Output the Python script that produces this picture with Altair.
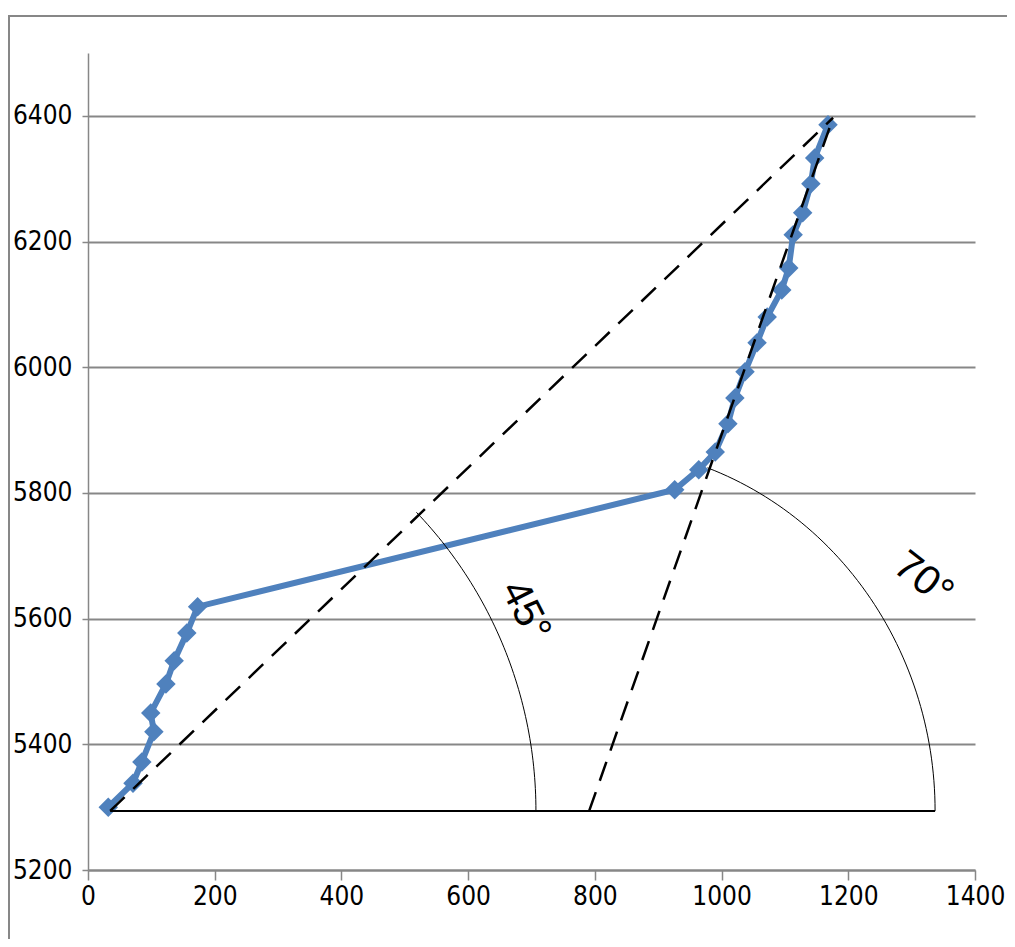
import altair as alt
import pandas as pd
import numpy as np

# ---- data series ----
x_vals = [32, 71, 85, 104, 99, 123, 136, 156, 173, 926, 964, 990, 1010, 1021,
          1037, 1056, 1072, 1095, 1106, 1113, 1128, 1141, 1147, 1168]
y_vals = [5300, 5338, 5372, 5420, 5450, 5496, 5533, 5577, 5619, 5805, 5837, 5865,
          5910, 5951, 5993, 6039, 6080, 6123, 6158, 6211, 6246, 6292, 6333, 6386]

x_ticks = [0, 200, 400, 600, 800, 1000, 1200, 1400]
y_ticks = [5200, 5400, 5600, 5800, 6000, 6200, 6400]

# ---- annotation geometry (data units) ----
base_x = [35, 1337]
base_y = [5294, 5294]
dash_a_x = [35, 1176]
dash_a_y = [5294, 6397]
dash_b_x = [791, 1176]
dash_b_y = [5294, 6397]
arc1 = dict(cx=35, cy=5294, rx=672, ry=684, t_end=44)
arc2 = dict(cx=791, cy=5294, rx=546, ry=581, t_end=70)
labels_text = ["45°", "70°"]
labels_x = [690, 1318]
labels_y = [5612, 5662]
labels_angle = [63, 38]

BLUE = "#4F81BD"
GRAY = "#878787"
NUM_FONT = "DejaVu Sans Condensed"

series = pd.DataFrame({"x": x_vals, "y": y_vals, "i": range(len(x_vals))})

def arc_frame(a, name):
    t = np.radians(np.linspace(0, a["t_end"], 60))
    return pd.DataFrame({"x": a["cx"] + a["rx"] * np.cos(t),
                         "y": a["cy"] + a["ry"] * np.sin(t),
                         "i": range(len(t)), "seg": name})

arcs = pd.concat([arc_frame(arc1, "a1"), arc_frame(arc2, "a2")])
dashed = pd.concat([
    pd.DataFrame({"x": dash_a_x, "y": dash_a_y, "i": [0, 1], "seg": "da"}),
    pd.DataFrame({"x": dash_b_x, "y": dash_b_y, "i": [0, 1], "seg": "db"}),
])
base = pd.DataFrame({"x": base_x, "y": base_y, "i": [0, 1]})
texts = pd.DataFrame({"t": labels_text, "x": labels_x, "y": labels_y, "a": labels_angle})

xs = alt.Scale(domain=[0, 1400], nice=False, zero=False)
ys = alt.Scale(domain=[5200, 6500], nice=False, zero=False)

X = alt.X("x:Q", scale=xs, axis=alt.Axis(values=x_ticks, grid=False, title=None, format="d",
          domainColor=GRAY, domainWidth=2, tickColor=GRAY, tickWidth=1.5, tickSize=10,
          labelFont=NUM_FONT, labelFontSize=26, labelColor="black",
          labelPadding=3, labelFlush=False, labelOverlap=False))
Y = alt.Y("y:Q", scale=ys, axis=alt.Axis(values=y_ticks, grid=True, gridColor=GRAY, format="d",
          gridWidth=2, title=None, domainColor=GRAY, domainWidth=1.5, tickColor=GRAY,
          tickWidth=1.5, tickSize=6, labelFont=NUM_FONT, labelFontSize=26,
          labelColor="black", labelPadding=10, labelOverlap=False))

frame = alt.Chart(pd.DataFrame({"k": [0]})).mark_rect(
    fill="transparent", stroke=GRAY, strokeWidth=2).encode(
    x=alt.value(-79), y=alt.value(-37), x2=alt.value(2000), y2=alt.value(2000))

line = alt.Chart(series).mark_line(color=BLUE, strokeWidth=6).encode(
    x=X, y=Y, order="i:Q")
pts = alt.Chart(series).mark_point(shape="diamond", filled=True, size=380,
                                   color=BLUE, opacity=1).encode(x="x:Q", y="y:Q")
base_line = alt.Chart(base).mark_line(color="black", strokeWidth=2).encode(
    x="x:Q", y="y:Q", order="i:Q")
dash_lines = alt.Chart(dashed).mark_line(color="black", strokeWidth=2.5,
                                         strokeDash=[20, 12]).encode(
    x="x:Q", y="y:Q", detail="seg:N", order="i:Q")
arc_lines = alt.Chart(arcs).mark_line(color="black", strokeWidth=1).encode(
    x="x:Q", y="y:Q", detail="seg:N", order="i:Q")
txt = alt.Chart(texts).mark_text(font="Liberation Sans", fontSize=41, color="black",
                                 align="center", baseline="middle").encode(
    x="x:Q", y="y:Q", text="t:N", angle=alt.Angle("a:Q", scale=None))

chart = alt.layer(frame, line, pts, base_line, dash_lines, arc_lines, txt).properties(
    width=887, height=817,
    autosize=alt.AutoSizeParams(type="none"),
    padding={"left": 80, "top": 45, "right": 32, "bottom": 69},
).configure_view(strokeWidth=0)

chart.save("out.html", embed_options={"renderer": "svg", "actions": False})
